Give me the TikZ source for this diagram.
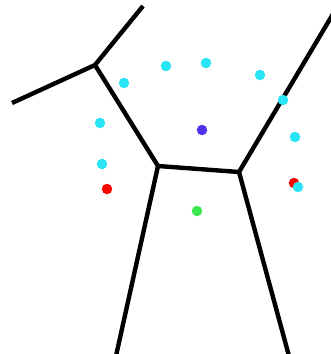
\documentclass[tikz,border=0pt]{standalone}
\definecolor{dcyan}{RGB}{40,228,245}
\definecolor{dblue}{RGB}{80,50,240}
\definecolor{dgreen}{RGB}{60,230,80}
\definecolor{dred}{RGB}{255,0,0}
\begin{document}
\begin{tikzpicture}[x=1pt,y=-1pt,
  edge/.style={line width=4.4pt,black,line join=round},
  dot/.style={circle,inner sep=0pt,minimum size=10.5pt}]
\useasboundingbox (0,0) rectangle (331,354);
\coordinate (A) at (95,65);
\coordinate (B) at (158,166);
\coordinate (C) at (239,172);
\coordinate (T1) at (143,6);
\coordinate (L1) at (12,103);
\coordinate (T2) at (333,14);
\coordinate (D1) at (116,356);
\coordinate (D2) at (289,356);
\draw[edge] (T1) -- (A) -- (L1);
\draw[edge] (A) -- (B) -- (C) -- (T2);
\draw[edge] (B) -- (D1);
\draw[edge] (C) -- (D2);
\node[dot,fill=dcyan] (c1) at (124,83) {};
\node[dot,fill=dcyan] (c2) at (166,66) {};
\node[dot,fill=dcyan] (c3) at (206,63) {};
\node[dot,fill=dcyan] (c4) at (260,75) {};
\node[dot,fill=dcyan] (c5) at (283,100) {};
\node[dot,fill=dcyan] (c6) at (295,137) {};
\node[dot,fill=dcyan] (c7) at (100,123) {};
\node[dot,fill=dcyan] (c8) at (102,164) {};
\node[dot,fill=dblue] (b1) at (202,130) {};
\node[dot,fill=dred] (r1) at (107,189) {};
\node[dot,fill=dgreen] (g1) at (197,211) {};
\node[dot,fill=dred] (r2) at (294,183) {};
\node[dot,fill=dcyan] (c9) at (298,187) {};
\end{tikzpicture}
\end{document}
